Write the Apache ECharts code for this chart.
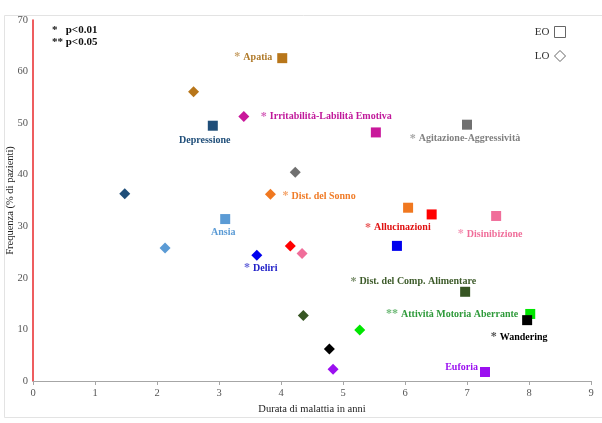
<!DOCTYPE html>
<html>
<head>
<meta charset="utf-8">
<script src="https://cdn.jsdelivr.net/npm/echarts@6/dist/echarts.min.js"></script>
<style>html,body{margin:0;padding:0;background:#fff}#c{width:602px;height:423px}</style>
</head>
<body>
<div id="c"></div>
<script>
// ---- data ----
const categories = ['Apatia','Depressione','Irritabilità-Labilità Emotiva','Agitazione-Aggressività','Ansia','Dist. del Sonno','Allucinazioni','Disinibizione','Deliri','Dist. del Comp. Alimentare','Attività Motoria Aberrante','Wandering','Euforia'];
const significance = ['*','','*','*','','*','*','*','*','*','**','*',''];
const eoX = [4.02, 2.90, 5.53, 7.00, 3.10, 6.05, 6.43, 7.47, 5.87, 6.97, 8.02, 7.97, 7.29];
const eoY = [62.6, 49.5, 48.2, 49.7, 31.4, 33.6, 32.3, 32.0, 26.2, 17.3, 13.0, 11.8, 1.75];
const loX = [2.59, 1.48, 3.40, 4.23, 2.13, 3.83, 4.15, 4.34, 3.61, 4.36, 5.27, 4.78, 4.84];
const loY = [56.1, 36.3, 51.3, 40.5, 25.8, 36.2, 26.2, 24.7, 24.4, 12.7, 9.9, 6.2, 2.3];
const xTicks = [0,1,2,3,4,5,6,7,8,9];
const yTicks = [0,10,20,30,40,50,60,70];

// ---- styles ----
const markColors = ['#b8761a','#1f4e79','#c9189b','#707070','#5b9bd5','#f07820','#ff0000','#f06e9a','#0000ee','#375623','#00e600','#000000','#9b10f0'];
const textColors = ['#b07a2a','#1f4e79','#c0189a','#808080','#5b9bd5','#f07c28','#e01010','#f06e9a','#2020c8','#3d5b2a','#2e9a3a','#000000','#9b10f0'];
// label placement relative to a mark: [series ('EO'/'LO'), align, dx, dy]
const labelPlace = [
  ['EO','right',-10,-1],
  ['EO','center',-8,15],
  ['LO','left',17,0],
  ['EO','center',-2,14],
  ['EO','center',-2,13],
  ['LO','left',12,2],
  ['EO','right',-1,13],
  ['EO','center',-6,18],
  ['LO','center',4,13],
  ['EO','right',11,-10],
  ['EO','right',-12,0],
  ['EO','center',-8,17],
  ['EO','right',-7,-5]
];
const FONT = '"Liberation Serif","Times New Roman",serif';

function makeData(xs, ys) {
  return xs.map((x, i) => ({ value: [x, ys[i]], name: categories[i], itemStyle: { color: markColors[i], opacity: 1 } }));
}

const chart = echarts.init(document.getElementById('c'), null, { renderer: 'canvas' });
const baseGraphics = [
  { type: 'rect', left: 2, top: 13, shape: { width: 598, height: 402 }, style: { fill: 'none', stroke: '#e3e3e3', lineWidth: 1 }, silent: true, z: -1 },
  { type: 'text', left: 52, top: 25, style: { text: '*   p<0.01', fontFamily: FONT, fontSize: 11, fontWeight: 'bold', fill: '#111' } },
  { type: 'text', left: 52, top: 37, style: { text: '** p<0.05', fontFamily: FONT, fontSize: 11, fontWeight: 'bold', fill: '#111' } }
];
chart.setOption({
  animation: false,
  backgroundColor: '#fff',
  grid: { left: 33, right: 11, top: 20, bottom: 42, containLabel: false, outerBoundsMode: 'none' },
  legend: {
    orient: 'vertical', right: 31, top: 21, align: 'right',
    itemWidth: 11, itemHeight: 11, itemGap: 12, selectedMode: false,
    textStyle: { fontFamily: FONT, fontSize: 11, color: '#333' },
    data: [
      { name: 'EO', icon: 'rect', itemStyle: { color: '#fff', borderColor: '#666', borderWidth: 1, opacity: 1 } },
      { name: 'LO', icon: 'diamond', itemStyle: { color: '#fff', borderColor: '#666', borderWidth: 1, opacity: 1 } }
    ]
  },
  xAxis: {
    type: 'value', min: xTicks[0], max: xTicks[xTicks.length - 1], interval: 1,
    name: 'Durata di malattia in anni', nameLocation: 'middle', nameGap: 23, nameMoveOverlap: false,
    nameTextStyle: { fontFamily: FONT, fontSize: 10.5, color: '#222' },
    axisLine: { show: true, lineStyle: { color: '#a6a6a6', width: 1 } },
    axisTick: { show: true, length: 4, lineStyle: { color: '#a6a6a6' } },
    axisLabel: { fontFamily: FONT, fontSize: 10.5, color: '#555', margin: 7 },
    splitLine: { show: false }
  },
  yAxis: {
    type: 'value', min: yTicks[0], max: yTicks[yTicks.length - 1], interval: 10,
    name: 'Frequenza (% di pazienti)', nameLocation: 'middle', nameGap: 17, nameRotate: 90, nameMoveOverlap: false,
    nameTextStyle: { fontFamily: FONT, fontSize: 10.5, color: '#222' },
    axisLine: { show: true, lineStyle: { color: '#e8272a', width: 1.5 } },
    axisTick: { show: false },
    axisLabel: { fontFamily: FONT, fontSize: 10.5, color: '#555', margin: 5 },
    splitLine: { show: false }
  },
  graphic: baseGraphics,
  series: [
    { name: 'EO', type: 'scatter', symbol: 'rect', symbolSize: 10, itemStyle: { opacity: 1 }, data: makeData(eoX, eoY), z: 3 },
    { name: 'LO', type: 'scatter', symbol: 'diamond', symbolSize: 11, itemStyle: { opacity: 1 }, data: makeData(loX, loY), z: 3 }
  ]
});

// category labels placed next to their mark through the chart's own coordinate conversion
const labelGraphics = categories.map((name, i) => {
  const p = labelPlace[i];
  const pt = p[0] === 'EO' ? [eoX[i], eoY[i]] : [loX[i], loY[i]];
  const px = chart.convertToPixel({ gridIndex: 0 }, pt);
  const star = significance[i];
  return {
    type: 'text', x: px[0] + p[2], y: px[1] + p[3], z: 10,
    style: {
      text: (star ? '{s|' + star + ' }' : '') + '{t|' + name + '}',
      align: p[1], verticalAlign: 'middle',
      rich: {
        s: { fill: textColors[i], opacity: 0.7, fontFamily: FONT, fontSize: 12, fontWeight: 'bold' },
        t: { fill: textColors[i], fontFamily: FONT, fontSize: 10, fontWeight: 'bold' }
      }
    }
  };
});
chart.setOption({ graphic: baseGraphics.concat(labelGraphics) });
</script>
</body>
</html>
